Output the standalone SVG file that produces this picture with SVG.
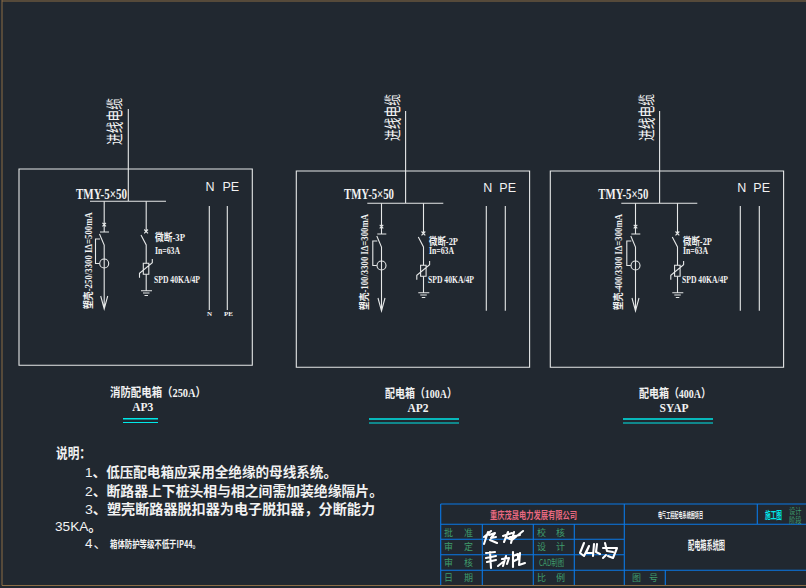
<svg xmlns="http://www.w3.org/2000/svg" width="806" height="588" viewBox="0 0 806 588">
<style>
.l{fill:none;stroke:#e6e8e8;stroke-width:1.1}
.bl{fill:none;stroke:#0a78e6;stroke-width:1.1}
.cy{stroke:#00e8e8;fill:none}
.sig{fill:none;stroke:#fff;stroke-width:2.1;stroke-linecap:round;stroke-linejoin:round}
text{font-family:"Noto Sans CJK SC","Liberation Sans",sans-serif;fill:#f2f2f2}
.s{font-family:"Liberation Serif","Noto Sans CJK SC",serif;font-weight:700}
.t{font-weight:700;font-size:13.5px}
.d{font-family:"Liberation Sans","Noto Sans CJK SC",sans-serif;font-weight:300}
.g{fill:#3f9c6c;font-size:9px}
.m{text-anchor:middle}
</style>
<defs>
<g id="sch">
<path class="l" d="M0 0H233.3V196.3H0Z"/>
<path class="l" d="M109.3 -60V32.3M71 32.3H147"/>
<path class="l" d="M85.2 32.3V63M81 63H90M83.4 53.8L87 57.4M87 53.8L83.4 57.4M80.5 65L85.2 76V140M81.7 127L85.2 140L88.7 127M81 70H76.5V94.5H80.5"/>
<circle class="l" cx="85.2" cy="94.5" r="4.5"/>
<path class="l" d="M127.2 32.3V62.5M125.2 60.5L129 64.3M129 60.5L125.2 64.3M122 66L127.2 76V94.3M127.2 105.3V121.7M122 121.7H133M124 124H130.5M125.5 126.5H129"/>
<path class="l" d="M124.3 94.3H129.8V105.3H124.3ZM120.5 108.7V104.3L133.3 93.7V90"/>
</g>
</defs>
<rect width="806" height="588" fill="#212830"/>
<path d="M2 0V585.500H806M2 1H806" fill="none" stroke="#8c6d45" stroke-width="1"/>
<g id="connectors">
<path class="l" d="M209.300 206V310M227.300 206V310M486.300 206V310.700M505.300 206V310.700M740.300 206V310.700M759.300 206V310.700"/>
</g>
<g id="panel-ap3">
<use href="#sch" transform="translate(19,169)"/>
<text transform="translate(121,145) rotate(-90)" font-size="17" textLength="47" lengthAdjust="spacingAndGlyphs">进线电缆</text>
<text class="s" x="76" y="199" font-size="15" textLength="51" lengthAdjust="spacingAndGlyphs">TMY-5×50</text>
<text class="s" transform="translate(91.500,309) rotate(-90)" font-size="10" textLength="97" lengthAdjust="spacingAndGlyphs">塑壳-250/3300 IΔ=500mA</text>
<text class="s" x="155" y="240.500" font-size="10" textLength="30" lengthAdjust="spacingAndGlyphs">微断-3P</text>
<text class="s" x="155" y="254" font-size="10" textLength="25" lengthAdjust="spacingAndGlyphs">In=63A</text>
<text class="s" x="154" y="282.500" font-size="10" textLength="46" lengthAdjust="spacingAndGlyphs">SPD 40KA/4P</text>
<text class="d" x="205.500" y="191" font-size="12.500">N</text>
<text class="d" x="222.500" y="191" font-size="12.500">PE</text>
<text class="s m" x="209.500" y="316" font-size="7">N</text>
<text class="s m" x="228.500" y="316" font-size="7">PE</text>
<text class="s" x="110" y="397" font-size="12" textLength="96" lengthAdjust="spacingAndGlyphs">消防配电箱（250A）</text>
<text class="s m" x="142.700" y="411" font-size="11.500">AP3</text>
<path class="cy" stroke-width="1.500" d="M123 418.700H158"/><path class="cy" d="M123 422.500H158"/>
</g>
<g id="panel-ap2">
<use href="#sch" transform="translate(296.300,171)"/>
<text transform="translate(398.500,141) rotate(-90)" font-size="17" textLength="47" lengthAdjust="spacingAndGlyphs">进线电缆</text>
<text class="s" x="344" y="199" font-size="15" textLength="50" lengthAdjust="spacingAndGlyphs">TMY-5×50</text>
<text class="s" transform="translate(368,310) rotate(-90)" font-size="10" textLength="96" lengthAdjust="spacingAndGlyphs">塑壳-100/3300 IΔ=300mA</text>
<text class="s" x="429" y="244.500" font-size="10" textLength="29" lengthAdjust="spacingAndGlyphs">微断-2P</text>
<text class="s" x="429" y="253.500" font-size="10" textLength="25" lengthAdjust="spacingAndGlyphs">In=63A</text>
<text class="s" x="428" y="282.500" font-size="10" textLength="46" lengthAdjust="spacingAndGlyphs">SPD 40KA/4P</text>
<text class="d" x="483.300" y="191.500" font-size="12.500">N</text>
<text class="d" x="499.300" y="191.500" font-size="12.500">PE</text>
<text class="s" x="385" y="398" font-size="12" textLength="72" lengthAdjust="spacingAndGlyphs">配电箱（100A）</text>
<text class="s m" x="418" y="412" font-size="11.500">AP2</text>
<path class="cy" stroke-width="1.500" d="M369 419H459"/><path class="cy" d="M369 423H459"/>
</g>
<g id="panel-syap">
<use href="#sch" transform="translate(550.300,171)"/>
<text transform="translate(652.500,141) rotate(-90)" font-size="17" textLength="47" lengthAdjust="spacingAndGlyphs">进线电缆</text>
<text class="s" x="598.300" y="199" font-size="15" textLength="50" lengthAdjust="spacingAndGlyphs">TMY-5×50</text>
<text class="s" transform="translate(621.500,310) rotate(-90)" font-size="10" textLength="96" lengthAdjust="spacingAndGlyphs">塑壳-400/3300 IΔ=300mA</text>
<text class="s" x="683" y="244.500" font-size="10" textLength="29" lengthAdjust="spacingAndGlyphs">微断-2P</text>
<text class="s" x="683" y="253.500" font-size="10" textLength="25" lengthAdjust="spacingAndGlyphs">In=63A</text>
<text class="s" x="682" y="282.500" font-size="10" textLength="46" lengthAdjust="spacingAndGlyphs">SPD 40KA/4P</text>
<text class="d" x="737.300" y="191.500" font-size="12.500">N</text>
<text class="d" x="753.300" y="191.500" font-size="12.500">PE</text>
<text class="s" x="639" y="398" font-size="12" textLength="72" lengthAdjust="spacingAndGlyphs">配电箱（400A）</text>
<text class="s m" x="674" y="412" font-size="11.500">SYAP</text>
<path class="cy" stroke-width="1.500" d="M623 419H713"/><path class="cy" d="M623 423H713"/>
</g>
<g id="notes">
<text class="t" x="56" y="457.500" textLength="35" lengthAdjust="spacingAndGlyphs">说明：</text>
<text class="t" x="85" y="476.500" textLength="252" lengthAdjust="spacingAndGlyphs"><tspan class="d">1</tspan>、低压配电箱应采用全绝缘的母线系统。</text>
<text class="t" x="85" y="495.500" textLength="298" lengthAdjust="spacingAndGlyphs"><tspan class="d">2</tspan>、断路器上下桩头相与相之间需加装绝缘隔片。</text>
<text class="t" x="85" y="514" textLength="290" lengthAdjust="spacingAndGlyphs"><tspan class="d">3</tspan>、塑壳断路器脱扣器为电子脱扣器，分断能力</text>
<text class="t" x="55" y="530.500" textLength="47" lengthAdjust="spacingAndGlyphs"><tspan class="d">35KA</tspan>。</text>
<text x="85" y="548" font-size="13.500" textLength="22"><tspan class="d">4</tspan>、</text>
<text x="110" y="547.500" font-size="10" font-weight="700" textLength="90" lengthAdjust="spacingAndGlyphs">箱体防护等级不低于IP44。</text>
</g>
<g id="title-block">
<path class="bl" stroke-width="1.500" d="M440.700 504H806"/>
<path class="bl" d="M440.700 504V585M440.700 524.300H806M440.700 539.300H624.300M440.700 554.700H624.300M440.700 570.300H806M482.300 524.300V585M533.300 524.300V585M574.300 524.300V585M624.300 504V585M665.300 570.300V585M757.300 504V524.300"/>
<text x="490" y="519" font-size="10" font-weight="700" style="fill:#e8687f" textLength="87" lengthAdjust="spacingAndGlyphs">重庆茂晟电力发展有限公司</text>
<text x="658" y="517.500" font-size="8" font-weight="700" textLength="45" lengthAdjust="spacingAndGlyphs">电气工程配电系统图项目</text>
<text x="765" y="519" font-size="10" font-weight="700" style="fill:#00e8e8" textLength="17" lengthAdjust="spacingAndGlyphs">施工图</text>
<text x="789" y="514" font-size="8" style="fill:#3f9c6c" textLength="12.500" lengthAdjust="spacingAndGlyphs">设计</text>
<text x="789" y="522.500" font-size="8" style="fill:#3f9c6c" textLength="12.500" lengthAdjust="spacingAndGlyphs">阶段</text>
<text x="688" y="549.500" font-size="12" font-weight="700" textLength="37" lengthAdjust="spacingAndGlyphs">配电箱系统图</text>
<text class="g" x="444" y="535.500">批</text><text class="g" x="464" y="535.500">准</text>
<text class="g" x="444" y="550">审</text><text class="g" x="464" y="550">定</text>
<text class="g" x="444" y="565.500">审</text><text class="g" x="464" y="565.500">核</text>
<text class="g" x="444" y="580.500">日</text><text class="g" x="464" y="580.500">期</text>
<text class="g" x="537" y="535.500">校</text><text class="g" x="556" y="535.500">核</text>
<text class="g" x="537" y="550">设</text><text class="g" x="556" y="550">计</text>
<text class="g" x="539" y="565.500" textLength="25" lengthAdjust="spacingAndGlyphs">CAD制图</text>
<text class="g" x="537" y="580.500">比</text><text class="g" x="556" y="580.500">例</text>
<text class="g" x="632" y="580.500">图</text><text class="g" x="649" y="580.500">号</text>
<path class="sig" d="M484 537L491 531M488 532L484 544M489 535L495 533L491 538L496 537M490 540L497 543M503 536L512 533M508 532L504 542M506 537L512 540L523 531M514 532L511 543M510 537L520 535"/>
<path class="sig" d="M486 553L495 552M490 552L491 568M486 558L496 556M487 562L496 560M498 566L503 562M506 556L503 566M502 559L509 558L507 564M513 552V567M513 556L518 554V559L514 561M520 553L519 565L525 563"/>
<path class="sig" d="M584 543L580 553L584 556L589 546L586 553L592 553M594 544L593 556M597 544L596 552L600 554M605 543L607 551L613 552M603 548L617 548L613 558L608 556M606 555L603 558"/>
</g>
</svg>
